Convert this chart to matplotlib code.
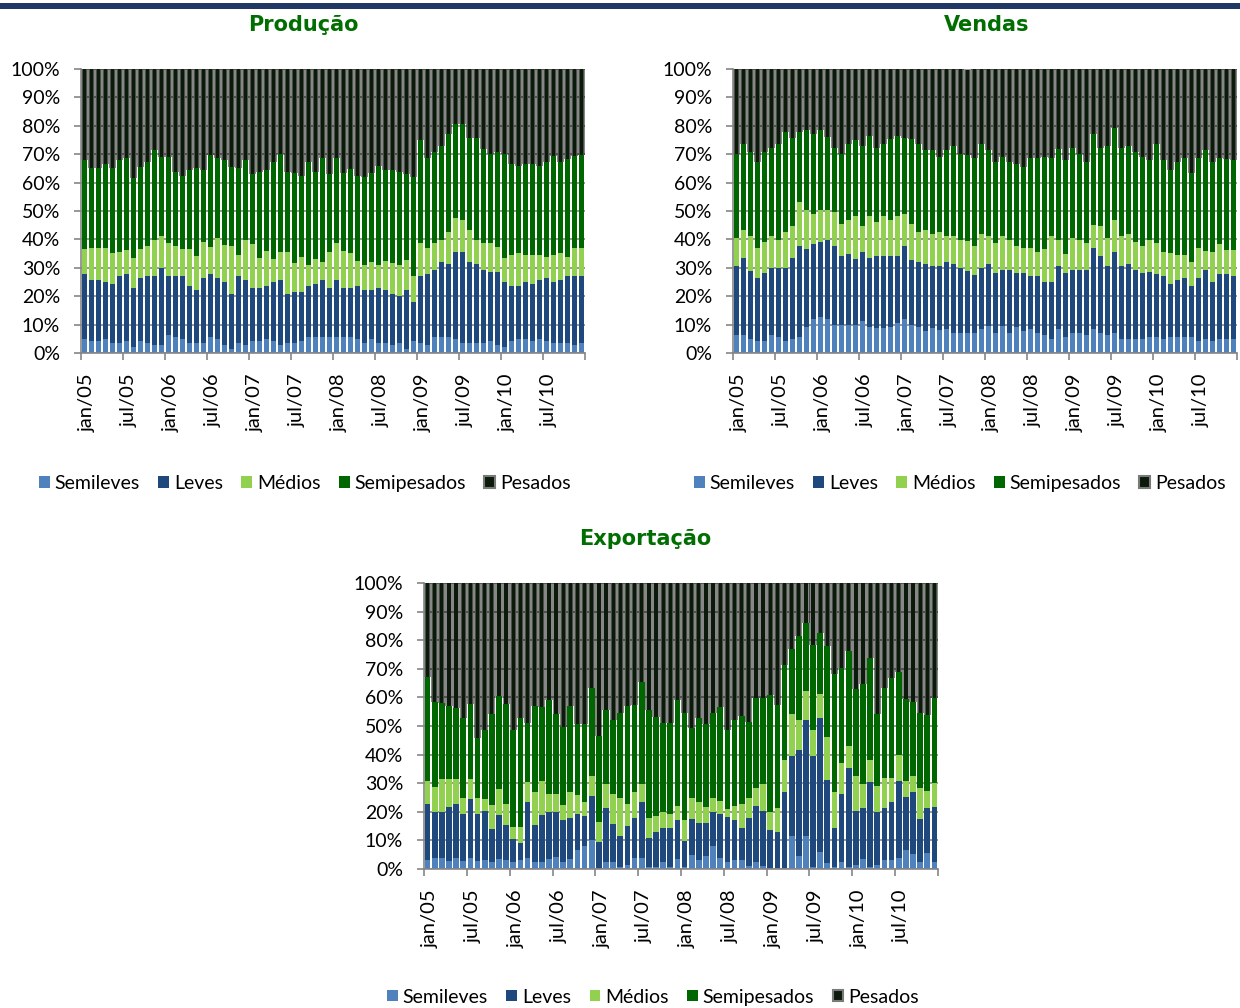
import numpy as np
import matplotlib
matplotlib.use("Agg")
import matplotlib.pyplot as plt
from matplotlib.patches import Patch, Rectangle

plt.rcParams['font.family'] = ['Lato', 'DejaVu Sans']

# month labels shown on the x axis (every 6th month)
rotulos = ['jan/05', 'jul/05', 'jan/06', 'jul/06', 'jan/07', 'jul/07',
           'jan/08', 'jul/08', 'jan/09', 'jul/09', 'jan/10', 'jul/10']
series = ['Semileves', 'Leves', 'Médios', 'Semipesados', 'Pesados']

# Produção - share (%) by segment, jan/05 .. dez/10
prod_semileves = [4.9, 4.2, 4.2, 4.9, 3.5, 3.5, 4.2, 2.1, 4.2, 3.5, 2.8, 2.8,
                  6.3, 5.6, 4.9, 3.5, 3.5, 3.5, 5.6, 4.9, 2.8, 1.4, 3.5, 2.8,
                  4.2, 4.2, 4.9, 4.2, 2.8, 3.5, 3.5, 4.2, 5.6, 5.6, 5.6, 5.6,
                  5.6, 5.6, 5.6, 5.0, 3.5, 5.0, 3.5, 3.5, 2.8, 3.5, 1.4, 4.2,
                  3.5, 2.8, 5.6, 5.6, 5.6, 4.9, 3.5, 3.5, 3.5, 3.5, 4.2, 2.8,
                  2.1, 4.2, 4.9, 4.9, 4.2, 4.9, 4.2, 3.5, 3.5, 3.5, 2.8, 3.5]
prod_leves = [23.0, 21.6, 21.6, 20.2, 20.8, 23.6, 23.7, 20.8, 22.3, 23.6, 24.3, 27.1,
              20.8, 21.5, 22.2, 20.2, 18.7, 23.0, 22.3, 21.6, 22.3, 19.4, 23.6, 23.0,
              18.8, 18.8, 18.8, 20.9, 23.0, 17.3, 18.0, 17.3, 18.1, 18.7, 20.2, 17.3,
              20.1, 17.3, 17.3, 18.6, 18.7, 17.2, 19.4, 18.7, 18.0, 16.6, 20.8, 13.8,
              23.6, 25.0, 23.6, 26.6, 25.7, 30.7, 32.1, 28.7, 27.8, 25.7, 24.3, 25.7,
              23.0, 19.4, 18.7, 20.2, 20.1, 20.8, 22.3, 21.5, 22.2, 23.6, 24.3, 23.6]
prod_medios = [8.6, 11.1, 11.3, 12.0, 10.8, 8.6, 8.5, 10.7, 10.1, 10.7, 12.7, 11.4,
               11.5, 10.7, 9.4, 12.8, 12.1, 12.7, 9.3, 13.9, 12.9, 16.9, 7.3, 14.0,
               15.5, 10.6, 12.3, 7.9, 9.9, 14.9, 10.3, 12.4, 7.3, 8.7, 6.2, 12.8,
               13.1, 13.0, 12.4, 8.8, 8.8, 10.0, 8.1, 10.2, 10.8, 10.9, 10.5, 9.1,
               11.5, 9.3, 9.4, 7.6, 11.2, 11.8, 11.2, 11.1, 8.5, 9.4, 10.1, 8.9,
               8.2, 10.9, 11.5, 9.4, 10.2, 8.8, 7.4, 9.5, 9.6, 6.8, 9.8, 10.0]
prod_semipesados = [31.6, 28.1, 28.2, 29.3, 29.9, 32.4, 32.1, 28.0, 28.8, 29.5, 31.8, 27.8,
                    30.5, 25.8, 25.8, 27.9, 30.8, 25.2, 32.5, 28.1, 30.1, 27.8, 30.6, 28.2,
                    24.5, 30.1, 28.4, 34.3, 34.3, 27.9, 31.5, 28.4, 36.3, 30.7, 36.5, 27.4,
                    30.0, 27.4, 29.4, 30.0, 30.9, 31.1, 34.8, 32.0, 32.8, 32.7, 30.3, 34.9,
                    36.4, 31.7, 32.3, 33.1, 34.6, 33.2, 33.7, 32.5, 36.0, 33.1, 31.4, 33.3,
                    36.7, 31.9, 30.7, 31.9, 31.9, 31.3, 33.4, 34.9, 32.0, 34.3, 32.5, 32.6]
prod_pesados = [31.9, 35.0, 34.7, 33.6, 35.0, 31.9, 31.5, 38.4, 34.6, 32.7, 28.4, 30.9,
                30.9, 36.4, 37.7, 35.6, 34.9, 35.6, 30.3, 31.5, 31.9, 34.5, 35.0, 32.0,
                37.0, 36.3, 35.6, 32.7, 30.0, 36.4, 36.7, 37.7, 32.7, 36.3, 31.5, 36.9,
                31.2, 36.7, 35.3, 37.6, 38.1, 36.7, 34.2, 35.6, 35.6, 36.3, 37.0, 38.0,
                25.0, 31.2, 29.1, 27.1, 22.9, 19.4, 19.5, 24.2, 24.2, 28.3, 30.0, 29.3,
                30.0, 33.6, 34.2, 33.6, 33.6, 34.2, 32.7, 30.6, 32.7, 31.8, 30.6, 30.3]

# Vendas
vend_semileves = [6.3, 6.3, 5.0, 4.2, 4.2, 6.3, 5.8, 4.2, 5.0, 5.8, 9.3, 12.1,
                  12.8, 12.1, 9.7, 9.7, 9.7, 9.7, 11.3, 9.3, 8.7, 8.7, 9.3, 10.4,
                  12.1, 9.7, 9.3, 7.9, 8.7, 8.1, 8.6, 7.2, 6.9, 7.2, 7.2, 8.3,
                  9.6, 7.2, 9.6, 7.2, 9.3, 7.6, 8.3, 7.2, 6.2, 4.8, 8.3, 5.8,
                  6.9, 6.9, 6.2, 8.3, 6.9, 6.3, 6.9, 4.9, 4.9, 4.9, 4.9, 5.8,
                  5.8, 4.9, 5.8, 5.8, 5.8, 5.8, 4.2, 4.9, 4.2, 4.9, 4.9, 4.9]
vend_leves = [24.5, 27.3, 23.8, 22.2, 23.9, 23.7, 24.2, 25.8, 28.6, 32.0, 27.2, 26.4,
              26.4, 27.7, 28.1, 24.5, 25.2, 23.4, 24.3, 24.3, 25.5, 25.5, 24.9, 23.8,
              25.7, 23.0, 22.9, 23.6, 22.1, 22.7, 23.6, 24.3, 22.9, 21.7, 20.3, 21.7,
              21.7, 20.9, 19.6, 22.0, 18.8, 20.5, 18.8, 19.9, 18.9, 20.3, 22.3, 22.3,
              22.3, 22.3, 23.0, 28.6, 27.3, 24.5, 28.8, 25.9, 26.4, 24.3, 23.2, 22.7,
              22.0, 22.2, 18.5, 19.9, 20.5, 17.8, 22.1, 24.3, 20.9, 22.9, 22.9, 22.2]
vend_medios = [9.6, 9.7, 12.4, 10.7, 11.1, 11.2, 9.8, 12.7, 11.2, 15.3, 13.9, 10.4,
               11.2, 10.6, 11.7, 11.2, 11.9, 15.1, 9.2, 14.8, 12.0, 14.2, 12.6, 14.2,
               11.1, 12.7, 10.5, 11.8, 11.1, 11.9, 9.0, 9.7, 10.0, 10.6, 10.2, 11.9,
               9.9, 10.5, 12.0, 10.6, 9.7, 9.0, 10.0, 8.6, 11.4, 16.1, 9.2, 6.6,
               11.2, 10.6, 9.4, 8.2, 10.6, 9.6, 11.1, 10.4, 10.6, 10.0, 9.6, 11.3,
               10.8, 8.6, 10.8, 8.8, 8.2, 8.6, 10.6, 6.8, 10.6, 10.6, 8.5, 9.2]
vend_semipesados = [29.6, 30.2, 29.6, 30.2, 31.6, 31.0, 33.7, 35.1, 31.0, 24.7, 28.0, 28.2,
                    28.1, 25.8, 22.7, 24.6, 26.7, 26.7, 28.1, 27.9, 26.0, 25.1, 28.7, 27.9,
                    26.9, 30.1, 30.8, 28.2, 29.6, 26.4, 30.3, 31.7, 30.2, 30.2, 31.1, 31.6,
                    30.3, 28.8, 27.9, 27.6, 28.6, 28.3, 31.4, 32.8, 32.6, 27.3, 31.9, 33.3,
                    31.7, 30.2, 28.8, 32.0, 27.3, 32.5, 32.3, 30.9, 31.0, 31.7, 31.4, 28.2,
                    35.0, 32.3, 29.3, 32.9, 34.0, 31.3, 31.6, 35.5, 31.7, 30.1, 32.0, 31.7]
vend_pesados = [30.0, 26.5, 29.2, 32.7, 29.2, 27.8, 26.5, 22.2, 24.2, 22.2, 21.6, 22.9,
                21.5, 23.8, 27.8, 30.0, 26.5, 25.1, 27.1, 23.7, 27.8, 26.5, 24.5, 23.7,
                24.2, 24.5, 26.5, 28.5, 28.5, 30.9, 28.5, 27.1, 30.0, 30.0, 31.2, 26.5,
                28.5, 32.6, 30.9, 32.6, 33.6, 34.6, 31.5, 31.5, 30.9, 31.5, 28.3, 32.0,
                27.9, 30.0, 32.6, 22.9, 27.9, 27.1, 20.9, 27.9, 27.1, 29.1, 30.9, 32.0,
                26.4, 32.0, 35.6, 32.6, 31.5, 36.5, 31.5, 28.5, 32.6, 31.5, 31.7, 32.0]

# Exportação
exp_semileves = [3.0, 3.8, 3.8, 2.9, 3.8, 2.9, 3.8, 2.9, 3.3, 2.4, 3.5, 3.3,
                 2.6, 3.3, 3.8, 2.4, 2.4, 3.5, 4.1, 2.6, 3.4, 6.7, 8.2, 10.2,
                 0.5, 2.6, 2.6, 0.8, 1.4, 4.0, 4.0, 0.8, 0.8, 2.6, 0.8, 3.4,
                 0.8, 4.9, 3.3, 4.5, 8.0, 3.8, 2.4, 3.0, 3.2, 1.0, 2.6, 1.2,
                 0.5, 0.5, 0.5, 11.4, 4.7, 11.4, 0.8, 6.1, 2.0, 0.8, 2.6, 0.8,
                 1.4, 3.5, 0.8, 1.4, 3.3, 3.3, 3.8, 6.5, 5.3, 2.4, 5.6, 2.4]
exp_leves = [19.6, 16.0, 16.0, 18.9, 18.8, 16.2, 20.7, 16.2, 16.9, 11.7, 15.3, 12.0,
             8.0, 5.9, 19.7, 12.9, 16.4, 16.3, 15.7, 14.4, 14.4, 12.5, 10.2, 15.2,
             8.8, 18.7, 13.1, 10.6, 13.5, 13.8, 19.4, 10.0, 12.1, 11.7, 13.5, 13.6,
             9.0, 12.7, 12.9, 11.7, 11.8, 15.3, 15.8, 14.0, 11.1, 16.8, 19.3, 19.2,
             13.2, 12.4, 26.5, 28.2, 36.8, 40.7, 38.8, 46.7, 29.1, 13.5, 23.7, 34.4,
             19.0, 17.9, 29.6, 18.6, 17.9, 20.0, 27.0, 18.8, 21.5, 15.2, 15.6, 19.4]
exp_medios = [8.2, 9.0, 11.7, 9.7, 8.9, 5.6, 7.0, 5.6, 4.3, 8.3, 9.2, 7.3,
              4.1, 5.5, 6.9, 11.5, 12.0, 6.3, 6.3, 5.5, 9.0, 6.8, 4.9, 7.1,
              7.0, 8.5, 10.6, 13.5, 7.8, 9.2, 6.4, 7.0, 5.5, 5.5, 4.9, 4.9,
              7.2, 7.1, 7.1, 5.6, 4.9, 4.7, 2.7, 5.0, 8.5, 7.1, 6.5, 9.4,
              6.3, 8.5, 11.1, 14.6, 10.6, 10.0, 9.0, 8.5, 14.9, 12.7, 10.6, 7.9,
              12.1, 8.4, 7.7, 9.0, 10.6, 8.5, 9.2, 5.5, 5.6, 10.6, 6.1, 8.2]
exp_semipesados = [36.5, 29.7, 26.7, 25.6, 24.7, 28.2, 26.1, 21.2, 24.0, 31.7, 32.6, 35.0,
                   33.8, 38.0, 20.8, 30.3, 25.9, 33.0, 28.0, 27.3, 30.1, 24.6, 27.3, 30.8,
                   30.2, 25.8, 25.8, 29.8, 34.2, 30.4, 35.5, 37.8, 34.6, 31.4, 32.0, 37.2,
                   37.7, 24.7, 29.6, 28.8, 30.0, 32.7, 27.6, 30.0, 30.8, 26.4, 31.5, 30.1,
                   40.7, 35.8, 33.1, 22.6, 29.4, 23.8, 29.7, 21.3, 32.1, 41.3, 33.5, 33.2,
                   30.5, 35.0, 35.8, 25.2, 31.5, 35.0, 28.8, 28.6, 26.1, 26.5, 26.5, 29.8]
exp_pesados = [32.7, 41.5, 41.8, 42.9, 43.8, 47.1, 42.4, 54.1, 51.5, 45.9, 39.4, 42.4,
               51.5, 47.3, 48.8, 42.9, 43.3, 40.9, 45.9, 50.2, 43.1, 49.4, 49.4, 36.7,
               53.5, 44.4, 47.9, 45.3, 43.1, 42.6, 34.7, 44.4, 47.0, 48.8, 48.8, 40.9,
               45.3, 50.6, 47.1, 49.4, 45.3, 43.5, 51.5, 48.0, 46.4, 48.7, 40.1, 40.1,
               39.3, 42.8, 28.8, 23.2, 18.5, 14.1, 21.7, 17.4, 21.9, 31.7, 29.6, 23.7,
               37.0, 35.2, 26.1, 45.8, 36.7, 33.2, 31.2, 40.6, 41.5, 45.3, 46.2, 40.2]

cores = ['#4f81bd', '#1f497d', '#92d050', '#006600', '#0b1a0b']
cinza = '#868686'
verde_titulo = '#006e00'


def draw_chart(ax, valores, titulo, tx, leg_x, leg_y):
    n = len(valores[0])
    x = np.arange(n)
    bottom = np.zeros(n)
    for nome, vals, cor in zip(series, valores, cores):
        vals = np.asarray(vals, dtype=float)
        if nome == 'Pesados':
            # grey soft glow around the dark bars
            ax.bar(x, vals, 1.0, bottom=bottom, color='black', alpha=0.47,
                   linewidth=0, antialiased=False, zorder=1)
            ax.bar(x, vals, 0.66, bottom=bottom, color='#485048',
                   linewidth=0, zorder=2)
            ax.bar(x, vals, 0.46, bottom=bottom, color=cor,
                   linewidth=0, zorder=2.1)
        else:
            ax.bar(x, vals, 0.8, bottom=bottom, color=cor, linewidth=0, zorder=2)
        bottom += vals

    ax.set_xlim(-0.5, n - 0.5)
    ax.set_ylim(0, 100)
    ax.set_yticks(np.arange(0, 101, 10))
    ax.set_yticklabels([f'{v}%' for v in range(0, 101, 10)])
    ax.yaxis.grid(True, color=cinza, linewidth=1.2)
    ax.set_axisbelow(True)

    ax.set_xticks(np.arange(-0.5, n, 6))
    ax.set_xticklabels([])
    ax.set_xticks(np.arange(0, n, 6) + 0.4, minor=True)
    ax.set_xticklabels(rotulos, minor=True, rotation=90, ha='center', va='top')
    ax.tick_params(axis='x', which='major', length=5, color=cinza, width=1.2)
    ax.tick_params(axis='x', which='minor', length=0, pad=15, labelsize=14.5)
    ax.tick_params(axis='y', length=5, color=cinza, width=1.2, pad=10, labelsize=14)

    for s in ['top', 'right']:
        ax.spines[s].set_visible(False)
    for s in ['left', 'bottom']:
        ax.spines[s].set_color(cinza)
        ax.spines[s].set_linewidth(1.2)

    handles = [Patch(facecolor=c, edgecolor='none') for c in cores[:4]]
    handles.append(Patch(facecolor=cores[4], edgecolor='#7a7a7a', linewidth=1.5))
    ax.legend(handles, series, loc='center', bbox_to_anchor=(leg_x, leg_y),
              ncol=5, frameon=False, fontsize=14, handlelength=0.55,
              handleheight=0.55, handletextpad=0.25, columnspacing=0.95,
              borderpad=0)

    fig.text(tx[0], tx[1], titulo, ha='center', va='center', fontsize=15,
             fontweight='bold', color=verde_titulo, family='DejaVu Sans')


fig = plt.figure(figsize=(12.4, 10.08), dpi=100)

# dark rule at the very top of the page
fig.patches.append(Rectangle((0, 1 - 9 / 1008), 1, 6 / 1008, transform=fig.transFigure,
                             facecolor='#1f3864', edgecolor='none'))

W, H = 1240, 1008
ax1 = fig.add_axes([81 / W, 1 - 353 / H, 504 / W, 284 / H])
ax2 = fig.add_axes([733 / W, 1 - 353 / H, 504 / W, 284 / H])
ax3 = fig.add_axes([424 / W, 1 - 869 / H, 514 / W, 286 / H])

draw_chart(ax1, [prod_semileves, prod_leves, prod_medios, prod_semipesados, prod_pesados],
           'Produção', (303 / W, 1 - 25 / H), 0.444, -0.458)
draw_chart(ax2, [vend_semileves, vend_leves, vend_medios, vend_semipesados, vend_pesados],
           'Vendas', (987 / W, 1 - 25 / H), 0.45, -0.458)
draw_chart(ax3, [exp_semileves, exp_leves, exp_medios, exp_semipesados, exp_pesados],
           'Exportação', (645 / W, 1 - 539 / H), 0.4455, -0.4476)

fig.savefig('out.png', dpi=100)
